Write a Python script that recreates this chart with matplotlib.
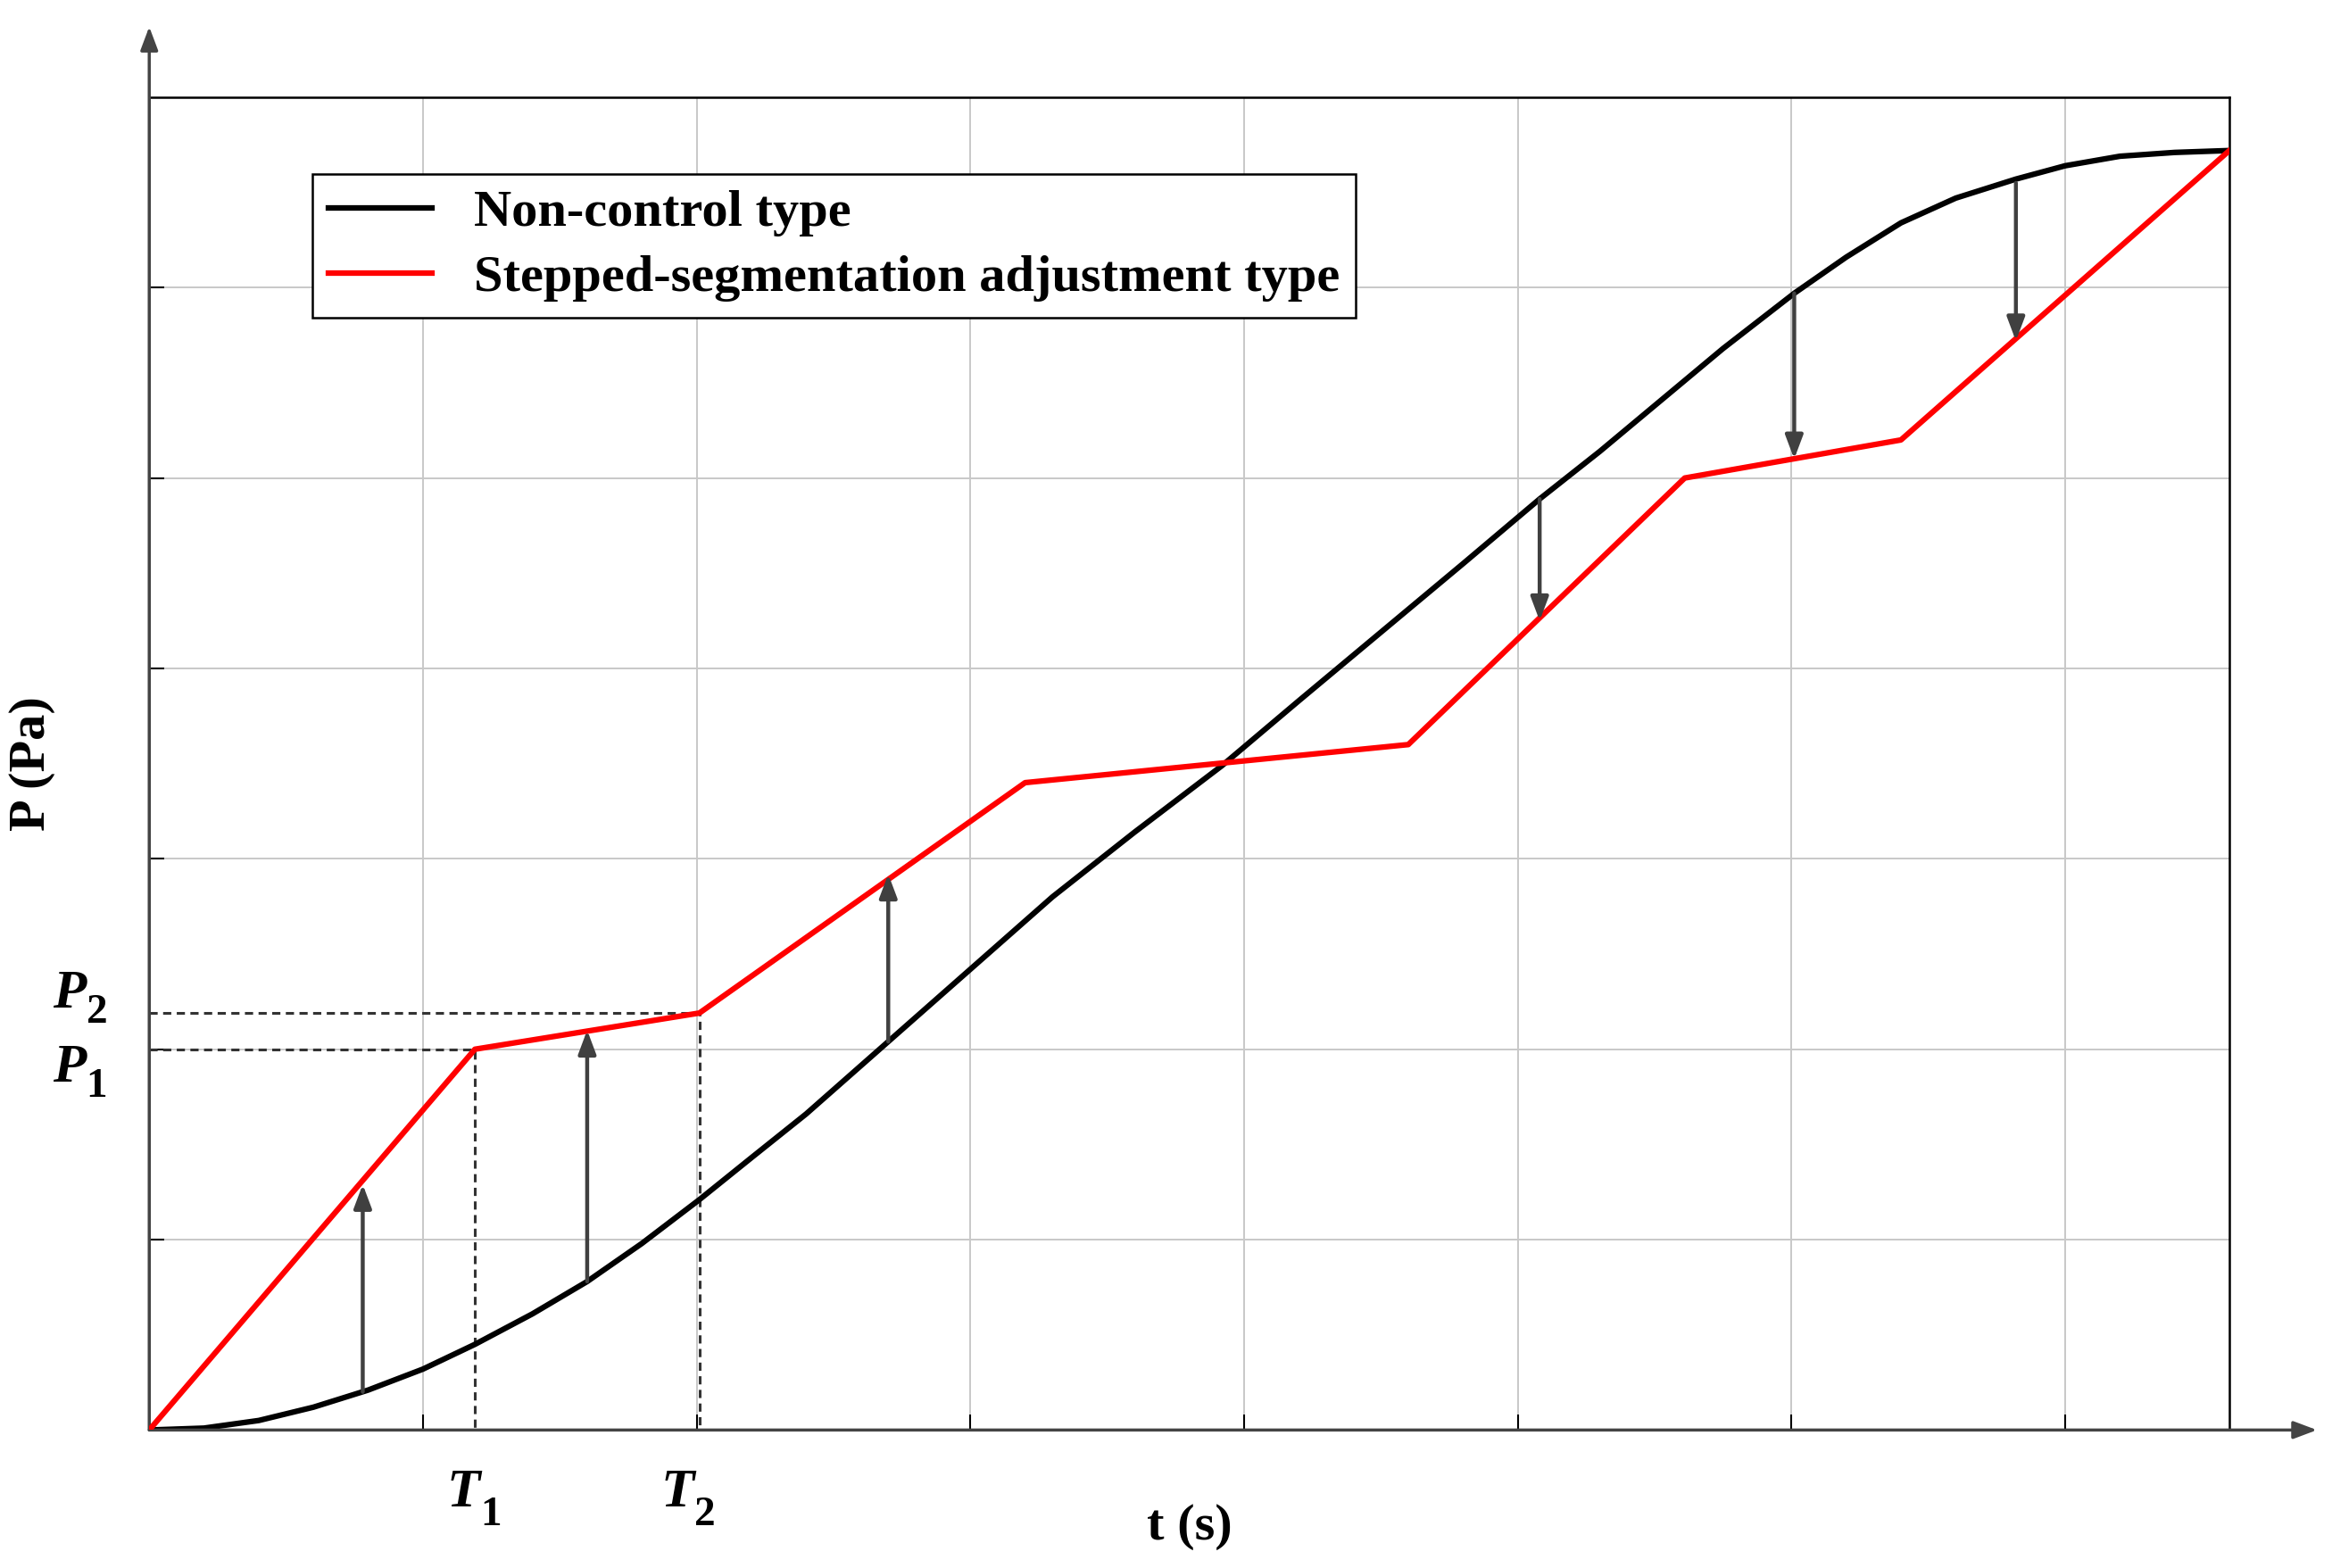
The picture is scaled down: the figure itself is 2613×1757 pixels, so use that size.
import matplotlib
matplotlib.use("Agg")
import matplotlib.pyplot as plt

# values (grid units)
red_t = [0.0, 1.19, 2.01, 3.20, 4.60, 5.61, 6.40, 7.60]
red_p = [0.0, 2.00, 2.19, 3.40, 3.60, 5.00, 5.20, 6.72]

black_t = [0.0, 0.2, 0.4, 0.6, 0.8, 1.0, 1.19, 1.4, 1.6, 1.8, 2.01, 2.2, 2.4,
           2.7, 3.0, 3.3, 3.6, 3.92, 4.2, 4.5, 4.8, 5.08, 5.3, 5.5, 5.75,
           6.01, 6.2, 6.4, 6.6, 6.82, 7.0, 7.2, 7.4, 7.6]
black_p = [0.0, 0.01, 0.05, 0.12, 0.21, 0.32, 0.45, 0.61, 0.78, 0.98, 1.21, 1.43,
           1.66, 2.04, 2.42, 2.80, 3.14, 3.49, 3.83, 4.19, 4.55, 4.89, 5.14,
           5.38, 5.68, 5.97, 6.16, 6.34, 6.47, 6.57, 6.64, 6.69, 6.71, 6.72]

arrow_t = [0.78, 1.60, 2.70, 5.08, 6.01, 6.82]
arrow_from = [0.20, 0.78, 2.04, 4.89, 5.97, 6.55]
arrow_to = [1.29, 2.10, 2.92, 4.25, 5.10, 5.72]

T1, P1 = 1.19, 2.00
T2, P2 = 2.01, 2.19

serif = ["Liberation Serif", "DejaVu Serif"]

fig = plt.figure(figsize=(26.13, 17.57), dpi=100)
ax = fig.add_axes([0.064, 0.088, 0.892, 0.850])
ax.set_xlim(0, 7.6)
ax.set_ylim(0, 7)
ax.set_xticks(range(1, 8))
ax.set_yticks(range(1, 7))
ax.set_xticklabels([])
ax.set_yticklabels([])
ax.tick_params(direction="in", length=12, width=1.5)
ax.grid(True, color="#c8c8c8", lw=1.4)
for s in ax.spines.values():
    s.set_linewidth(1.8)

ax.plot(black_t, black_p, color="black", lw=4.5, label="Non-control type", zorder=3)
ax.plot(red_t, red_p, color="red", lw=4.5, label="Stepped-segmentation adjustment type", zorder=4)

for t, a, b in zip(arrow_t, arrow_from, arrow_to):
    ax.annotate("", xy=(t, b), xytext=(t, a),
                arrowprops=dict(arrowstyle="-|>,head_length=1.6,head_width=0.6",
                                color="#404040", lw=3.2, shrinkA=0, shrinkB=0), zorder=5)

ax.plot([0, T1, T1], [P1, P1, 0], color="#333333", ls=(0, (3, 2)), lw=2.2, zorder=2)
ax.plot([0, T2, T2], [P2, P2, 0], color="#333333", ls=(0, (3, 2)), lw=2.2, zorder=2)

# outer axis arrows
ax.annotate("", xy=(0, 7.37), xytext=(0, 0), xycoords="data", annotation_clip=False,
            arrowprops=dict(arrowstyle="-|>,head_length=1.6,head_width=0.6", color="#444444", lw=2.5,
                            shrinkA=0, shrinkB=0))
ax.annotate("", xy=(7.92, 0), xytext=(0, 0), xycoords="data", annotation_clip=False,
            arrowprops=dict(arrowstyle="-|>,head_length=1.6,head_width=0.6", color="#444444", lw=2.5,
                            shrinkA=0, shrinkB=0))

ax.set_xlabel("t (s)", family=serif, weight="bold", fontsize=42)
ax.set_ylabel("P (Pa)", family=serif, weight="bold", fontsize=42)
ax.xaxis.set_label_coords(0.5, -0.055)
ax.yaxis.set_label_coords(-0.045, 0.5)

lbl = dict(family=serif, fontsize=44, weight="bold", style="italic")
sub = dict(family=serif, fontsize=34, weight="bold")
ax.text(T1 + 0.02, -0.2, "T", ha="right", va="top", **lbl)
ax.text(T1 + 0.02, -0.35, "1", ha="left", va="top", **sub)
ax.text(T2 - 0.02, -0.2, "T", ha="right", va="top", **lbl)
ax.text(T2 - 0.02, -0.35, "2", ha="left", va="top", **sub)
ax.text(-0.23, P2 + 0.1, "P", ha="right", va="center", **lbl)
ax.text(-0.23, P2 + 0.0, "2", ha="left", va="center", **sub)
ax.text(-0.23, P1 - 0.1, "P", ha="right", va="center", **lbl)
ax.text(-0.23, P1 - 0.2, "1", ha="left", va="center", **sub)

leg = ax.legend(loc="upper left", bbox_to_anchor=(0.066, 0.962), fancybox=False,
                edgecolor="black", framealpha=1, handlelength=2.0, borderpad=0.3,
                labelspacing=0.35, prop=dict(family=serif, weight="bold", size=42))
leg.get_frame().set_linewidth(1.8)

fig.savefig("out.png", dpi=100)
